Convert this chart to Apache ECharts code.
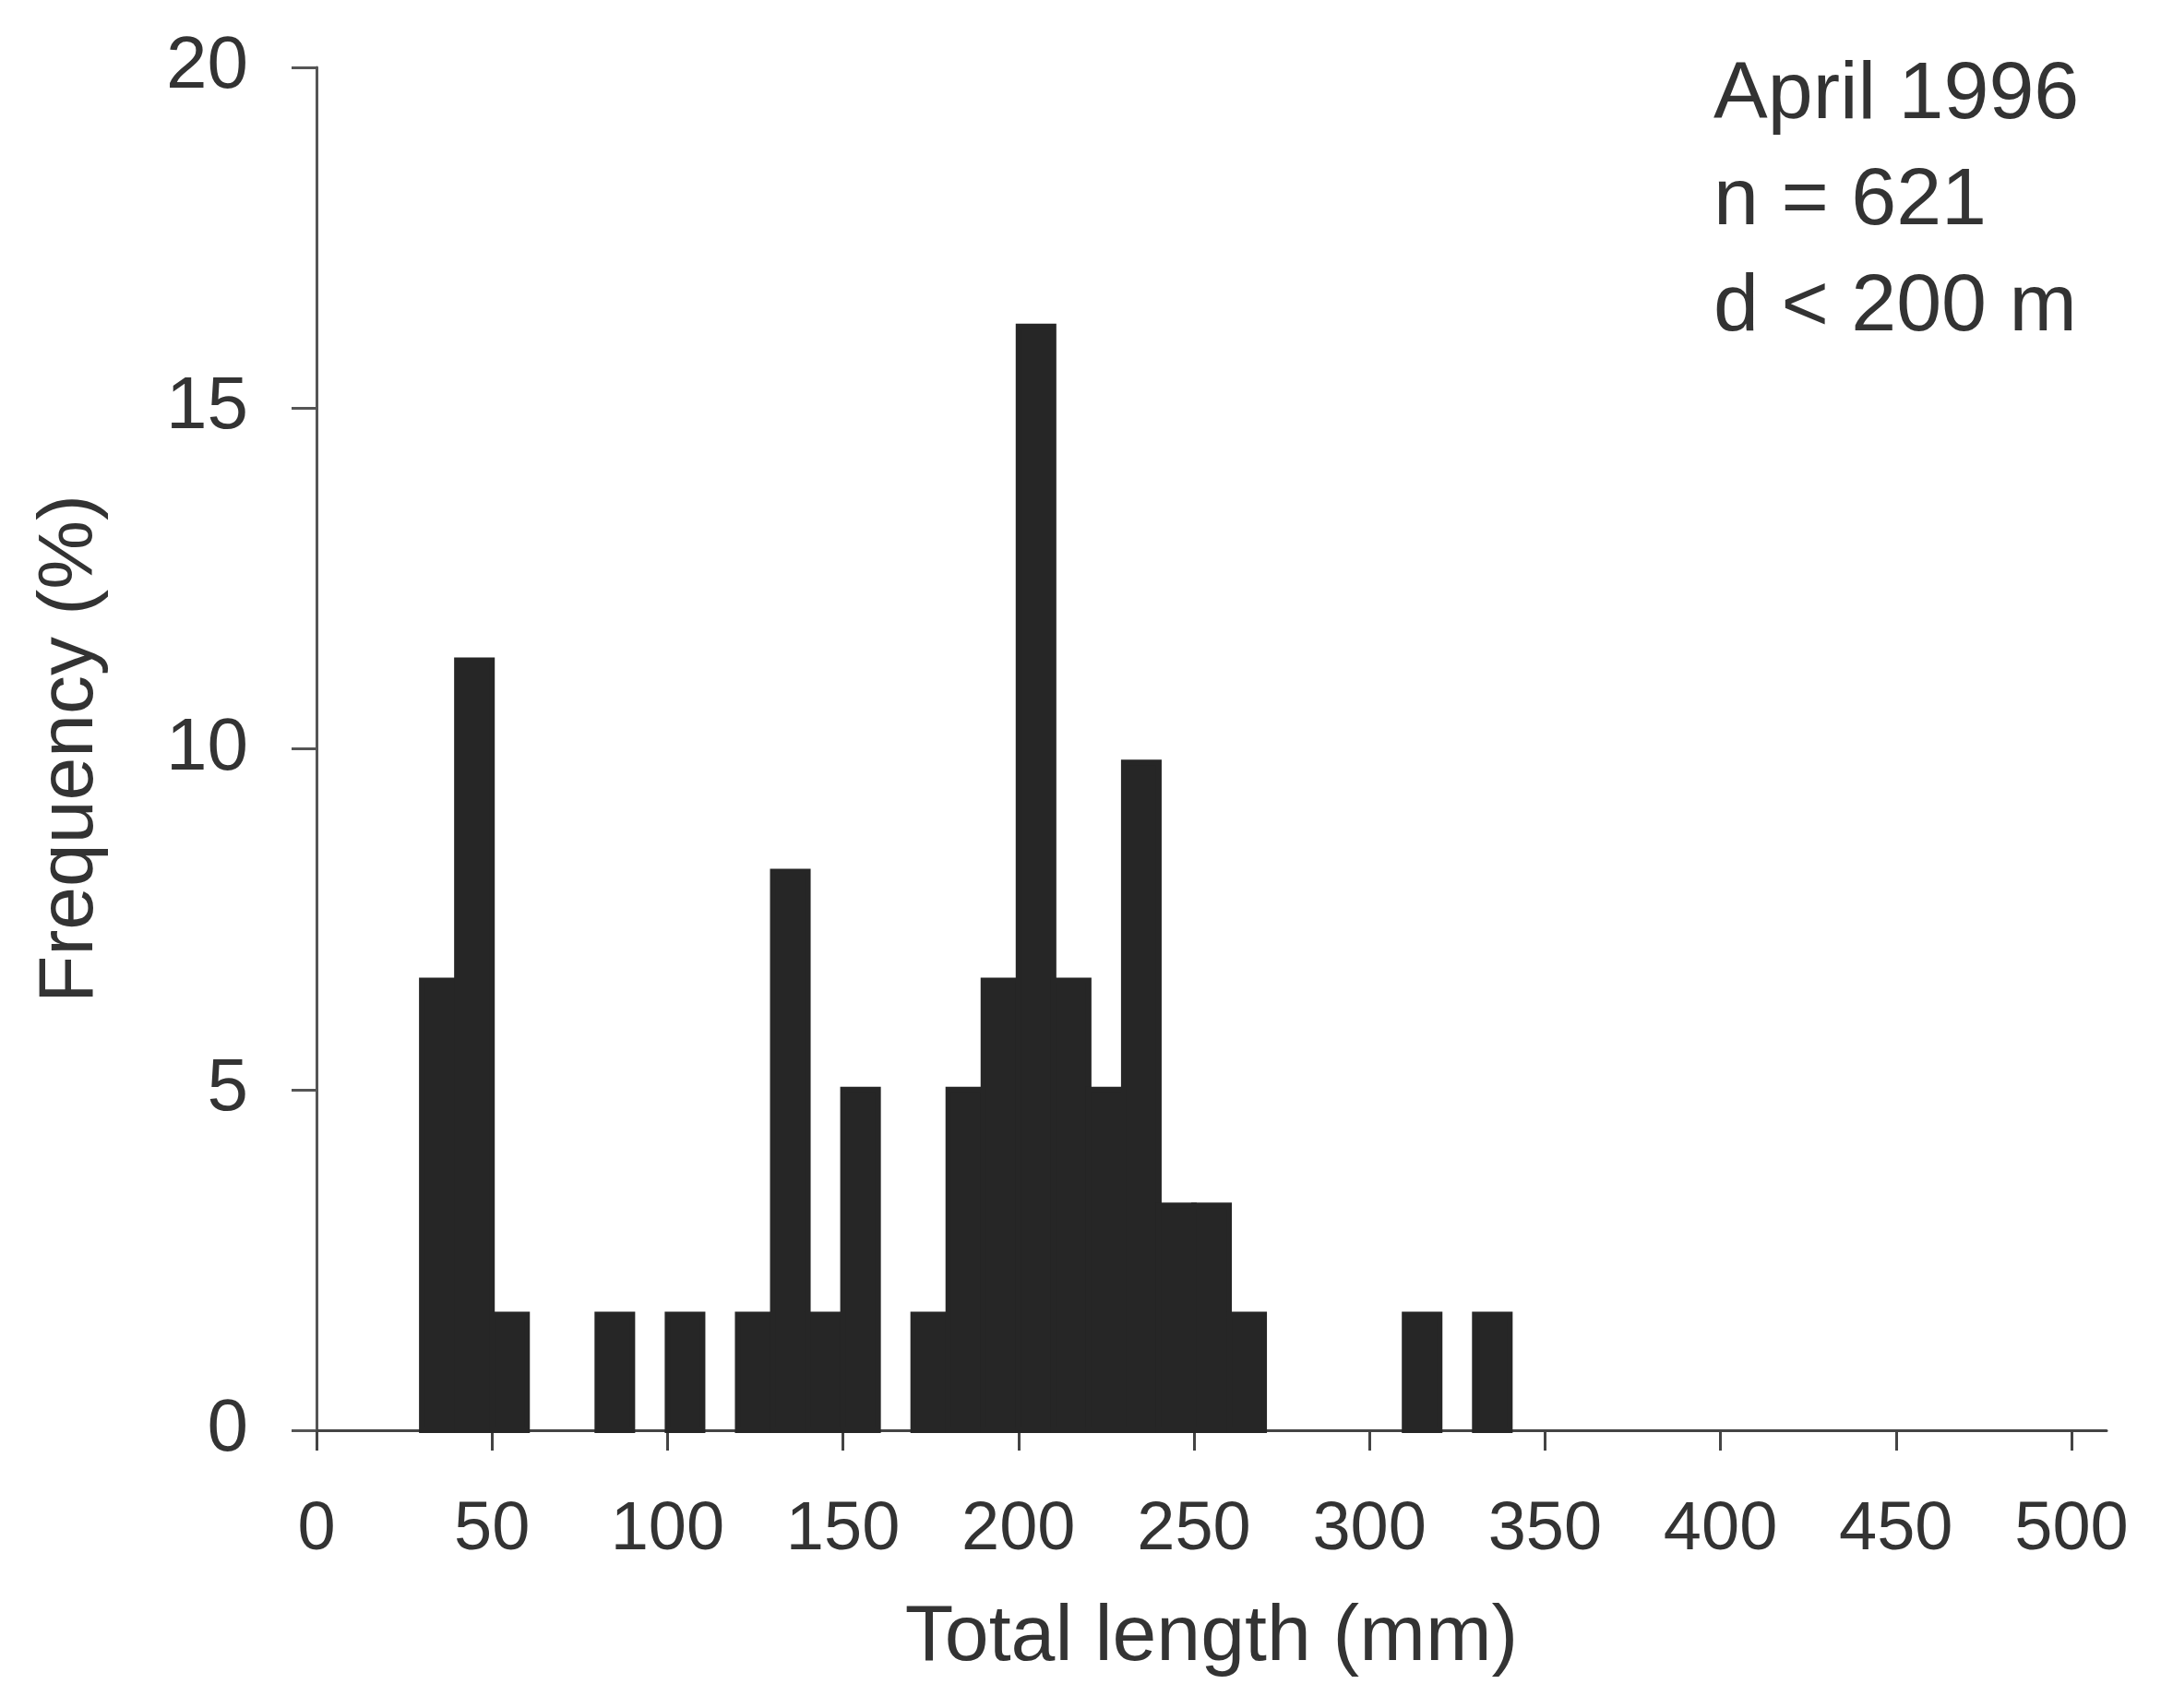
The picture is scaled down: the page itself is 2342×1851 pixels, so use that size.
<!DOCTYPE html>
<html>
<head>
<meta charset="utf-8">
<title>Total length frequency</title>
<script src="https://cdn.jsdelivr.net/npm/echarts@6/dist/echarts.min.js"></script>
<style>
  html, body { margin: 0; padding: 0; background: #fff; }
  #main { width: 2342px; height: 1851px; }
</style>
</head>
<body>
<div id="main"></div>
<script>
// length classes (lower edge, mm), 10 mm wide
var binStart = [30, 40, 50, 80, 100, 120, 130, 140, 150, 170, 180, 190, 200, 210, 220, 230, 240, 250, 260, 310, 330];
var binWidth = 10;
// frequency (%) per class
var freq = [6.6, 11.3, 1.7, 1.7, 1.7, 1.7, 8.2, 1.7, 5.0, 1.7, 5.0, 6.6, 16.2, 6.6, 5.0, 9.8, 3.3, 3.3, 1.7, 1.7, 1.7];

var xTicks = [0, 50, 100, 150, 200, 250, 300, 350, 400, 450, 500];
var yTicks = [0, 5, 10, 15, 20];
var noteLines = ['April 1996', 'n = 621', 'd < 200 m'];

var font = 'Liberation Sans, Arial, Helvetica, sans-serif';
var textColor = '#333';
var barColor = '#262626';

var myChart = echarts.init(document.getElementById('main'));

myChart.setOption({
  animation: false,
  backgroundColor: '#fff',
  grid: {
    left: 343,
    right: 59,
    top: 73,
    bottom: 301
  },
  xAxis: {
    type: 'value',
    min: 0,
    max: 510,
    name: 'Total length (mm)',
    nameLocation: 'middle',
    nameGap: 182,
    nameTextStyle: { fontFamily: font, fontSize: 86, color: textColor },
    axisLine: { show: true, lineStyle: { color: '#444', width: 3 } },
    axisTick: {
      show: true,
      length: 22,
      customValues: xTicks,
      lineStyle: { color: '#444', width: 3 }
    },
    axisLabel: {
      customValues: xTicks,
      fontFamily: font,
      fontSize: 74,
      color: textColor,
      margin: 72
    },
    splitLine: { show: false }
  },
  yAxis: {
    type: 'value',
    min: yTicks[0],
    max: yTicks[yTicks.length - 1],
    interval: 5,
    name: 'Frequency (%)',
    nameLocation: 'middle',
    nameGap: 224,
    nameTextStyle: { fontFamily: font, fontSize: 84, color: textColor },
    axisLine: { show: true, lineStyle: { color: '#555', width: 3 } },
    axisTick: { show: true, length: 27, lineStyle: { color: '#555', width: 3 } },
    axisLabel: {
      fontFamily: font,
      fontSize: 80,
      color: textColor,
      margin: 74
    },
    splitLine: { show: false }
  },
  graphic: [{
    type: 'text',
    left: 1857,
    top: 46,
    style: {
      text: noteLines.join('\n'),
      font: '88px ' + font,
      lineHeight: 115,
      fill: textColor
    }
  }],
  series: [{
    type: 'custom',
    data: binStart.map(function (s, i) { return [s, freq[i]]; }),
    encode: { x: 0, y: 1 },
    renderItem: function (params, api) {
      var x0 = api.value(0);
      var top = api.coord([x0, api.value(1)]);
      var bottom = api.coord([x0 + binWidth, 0]);
      return {
        type: 'rect',
        shape: {
          x: top[0],
          y: top[1],
          width: bottom[0] - top[0],
          height: bottom[1] - top[1]
        },
        style: { fill: barColor, stroke: barColor, lineWidth: 6 }
      };
    }
  }]
});
</script>
</body>
</html>
